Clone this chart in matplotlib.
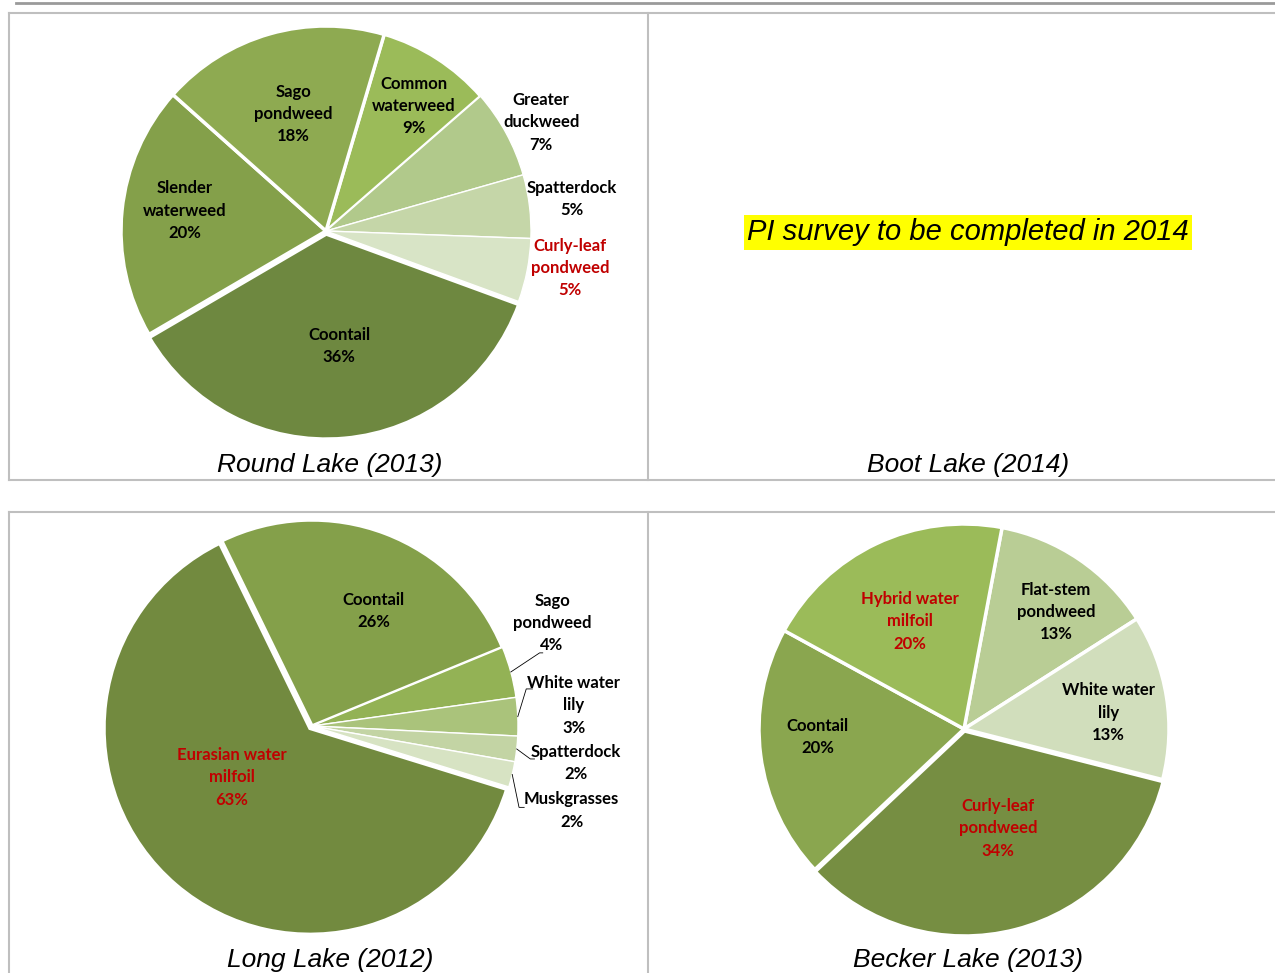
import numpy as np
import matplotlib.pyplot as plt

# --- data -------------------------------------------------------------
round_labels = ["Common\nwaterweed", "Greater\nduckweed", "Spatterdock", "Curly-leaf\npondweed",
                "Coontail", "Slender\nwaterweed", "Sago\npondweed"]
round_pct = [9, 7, 5, 5, 36, 20, 18]
round_invasive = [False, False, False, True, False, False, False]

long_labels = ["Coontail", "Sago\npondweed", "White water\nlily", "Spatterdock",
               "Muskgrasses", "Eurasian water\nmilfoil"]
long_pct = [26, 4, 3, 2, 2, 63]
long_invasive = [False, False, False, False, False, True]

becker_labels = ["Flat-stem\npondweed", "White water\nlily", "Curly-leaf\npondweed",
                 "Coontail", "Hybrid water\nmilfoil"]
becker_pct = [13, 13, 34, 20, 20]
becker_invasive = [False, False, True, False, True]

titles = ["Round Lake (2013)", "Boot Lake (2014)", "Long Lake (2012)", "Becker Lake (2013)"]
boot_note = "PI survey to be completed in 2014"

# --- styles -----------------------------------------------------------
round_colors = ["#9bbb59", "#b1c98b", "#c5d6a8", "#d8e4c6", "#6e8840", "#84a04a", "#8eaa51"]
long_colors = ["#84a04a", "#93b255", "#aac37b", "#c3d4a4", "#d7e3c3", "#728a3f"]
becker_colors = ["#b9cd95", "#d1debc", "#768e42", "#8aa64f", "#9bbb59"]

round_lw = [2.2, 1.0, 1.0, 1.0, 2.5, 2.5, 2.5]
long_lw = [2.5, 1.0, 1.0, 1.0, 1.0, 2.5]
becker_lw = [2.5, 2.5, 2.5, 2.5, 2.5]

round_explode = [0, 0, 0, 0, 0.015, 0, 0]
long_explode = [0, 0, 0, 0, 0, 0.015]
becker_explode = [0, 0, 0.01, 0, 0]

# label centres, relative to pie centre in radius units
round_pos = [(0.43, 0.61), (1.05, 0.53), (1.20, 0.155), (1.19, -0.18),
             (0.065, -0.56), (-0.69, 0.10), (-0.16, 0.57)]
long_pos = [(0.30, 0.56), (1.165, 0.50), (1.27, 0.10), (1.28, -0.18),
            (1.26, -0.41), (-0.39, -0.25)]
becker_pos = [(0.45, 0.57), (0.705, 0.08), (0.165, -0.485), (-0.715, -0.04), (-0.265, 0.525)]

# leader lines for the small Long Lake slices (elbow, end)
long_leaders = {1: [(1.105, 0.355), (1.12, 0.355)],
                2: [(1.04, 0.18), (1.07, 0.18)],
                3: [(1.06, -0.16), (1.08, -0.16)],
                4: [(1.005, -0.395), (1.03, -0.395)]}

W, H = 1275, 973
fig = plt.figure(figsize=(W / 100, H / 100), dpi=100)

bg = fig.add_axes([0, 0, 1, 1])
bg.set_xlim(0, W)
bg.set_ylim(H, 0)
bg.axis("off")

grid = "#bfbfbf"
bg.plot([16, W], [3, 3], color="#9a9a9a", lw=2)
# upper table
bg.plot([9, W], [13, 13], color=grid, lw=1.5)
bg.plot([9, W], [480, 480], color=grid, lw=1.5)
bg.plot([9, 9], [13, 480], color=grid, lw=1.5)
bg.plot([648, 648], [13, 480], color=grid, lw=1.5)
# lower table
bg.plot([9, W], [512, 512], color=grid, lw=1.5)
bg.plot([9, 9], [512, H], color=grid, lw=1.5)
bg.plot([648, 648], [512, H], color=grid, lw=1.5)

title_font = dict(family="Liberation Sans", style="italic", fontsize=19, ha="center", va="center")
bg.text(330, 465, titles[0], **title_font)
bg.text(968, 465, titles[1], **title_font)
bg.text(330, 960, titles[2], **title_font)
bg.text(968, 960, titles[3], **title_font)

bg.text(968, 232, boot_note, family="Liberation Sans", style="italic", fontsize=21,
        ha="center", va="center",
        bbox=dict(boxstyle="square,pad=0.12", facecolor="#ffff00", edgecolor="none"))


def draw_pie(cx, cy, r, box, pct, labels, colors, lws, explode, start, pos, invasive, leaders=None):
    x0, y0, x1, y1 = box
    ax = fig.add_axes([x0 / W, 1 - y1 / H, (x1 - x0) / W, (y1 - y0) / H])
    wedges, _ = ax.pie(pct, colors=colors, startangle=start, counterclock=False,
                       explode=explode, wedgeprops=dict(edgecolor="white"))
    for w, lw in zip(wedges, lws):
        w.set_linewidth(lw)
    for i, (lab, p) in enumerate(zip(labels, pct)):
        col = "#c00000" if invasive[i] else "black"
        ax.text(pos[i][0], pos[i][1], f"{lab}\n{p}%", ha="center", va="center",
                family="Lato", weight="bold", fontsize=12, color=col,
                linespacing=1.48, clip_on=False)
    if leaders:
        for i, pts in leaders.items():
            w = wedges[i]
            mid = np.deg2rad((w.theta1 + w.theta2) / 2)
            xs = [np.cos(mid)] + [q[0] for q in pts]
            ys = [np.sin(mid)] + [q[1] for q in pts]
            ax.plot(xs, ys, color="black", lw=0.6, clip_on=False)
    ax.set_xlim((x0 - cx) / r, (x1 - cx) / r)
    ax.set_ylim((cy - y1) / r, (cy - y0) / r)
    ax.set_aspect("auto")
    ax.axis("off")
    return ax


draw_pie(326, 231, 205, (10, 14, 647, 479), round_pct, round_labels, round_colors,
         round_lw, round_explode, 73.5, round_pos, round_invasive)
draw_pie(312, 726, 206, (10, 513, 647, H), long_pct, long_labels, long_colors,
         long_lw, long_explode, 116, long_pos, long_invasive, long_leaders)
draw_pie(964, 729, 205, (649, 513, W, H), becker_pct, becker_labels, becker_colors,
         becker_lw, becker_explode, 79.3, becker_pos, becker_invasive)

fig.savefig("out.png", dpi=100)
